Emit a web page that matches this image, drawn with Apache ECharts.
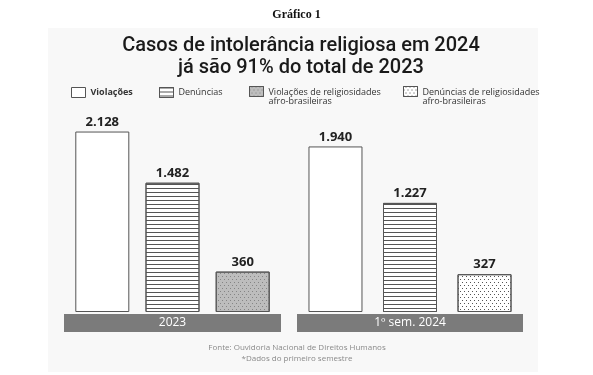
<!DOCTYPE html>
<html>
<head>
<meta charset="utf-8">
<script src="https://cdn.jsdelivr.net/npm/echarts@6/dist/echarts.min.js"></script>
<style>
	html, body { margin: 0; padding: 0; background: #fff; }
	#echarts { width: 593px; height: 375px; }
</style>
</head>
<body>
<div id="echarts"></div>
<script>
// data
const groups = ["2023", "1º sem. 2024"];
const seriesNames = [
	"Violações",
	"Denúncias",
	"Violações de religiosidades afro-brasileiras",
	"Denúncias de religiosidades afro-brasileiras",
];
const violacoes = [2128, 1940];
const denuncias = [1482, 1227];
const violacoesAfro = [360, null];
const denunciasAfro = [null, 327];

const BORDER = "#555";
const FONT = "Open Sans";

// layout of the two groups (band under the bars = x axis label)
const groupGrids = [
	{ left: 64, width: 217, barGap: "30%" },
	{ left: 297, width: 226, barGap: "38%" },
];

const dots = (color) => ({
	symbol: "rect",
	symbolSize: 1,
	color: color,
	dashArrayX: [[1, 3], [0, 2, 1, 1]],
	dashArrayY: [1, 2],
	rotation: 0,
});

const styles = [
	{ color: "#fff" },
	{
		color: "#fff",
		decal: { symbol: "rect", symbolSize: 1, color: "#555", dashArrayX: [1, 0], dashArrayY: [1, 3], rotation: 0 },
	},
	{ color: "#bdbdbd", decal: dots("#858585") },
	{ color: "#fff", decal: dots("#555") },
];

const values = [violacoes, denuncias, violacoesAfro, denunciasAfro];

const fmt = (v) => String(v).replace(/\B(?=(\d{3})+(?!\d))/g, ".");

const dom = document.getElementById("echarts");
const myChart = echarts.init(dom, null, { renderer: "canvas", width: 593, height: 375 });

const series = [];
groups.forEach((g, gi) => {
	values.forEach((arr, si) => {
		if (arr[gi] == null) return;
		series.push({
			type: "bar",
			name: seriesNames[si],
			xAxisIndex: gi,
			yAxisIndex: gi,
			data: [arr[gi]],
			barWidth: 54,
			barGap: groupGrids[gi].barGap,
			itemStyle: Object.assign({ borderColor: BORDER, borderWidth: 1 }, styles[si]),
			label: {
				show: true,
				position: "top",
				distance: 3,
				formatter: (p) => fmt(p.value),
				fontFamily: FONT,
				fontWeight: "bold",
				fontSize: 13,
				color: "#222",
			},
		});
	});
});

const legendAt = (name, left, top, bold) => ({
	data: [name],
	left: left,
	top: top,
	padding: 0,
	icon: "rect",
	itemWidth: 14,
	itemHeight: 10,
	itemGap: 0,
	selectedMode: false,
	itemStyle: { borderColor: BORDER, borderWidth: 1 },
	textStyle: {
		fontFamily: FONT,
		fontSize: 9,
		color: "#333",
		fontWeight: bold ? "bold" : "normal",
		rich: {
			p: { height: 11, fontSize: 9 },
			t: { fontFamily: FONT, fontSize: 9, lineHeight: 9, color: "#333" },
		},
	},
	formatter: (n) => {
		const parts = n.split(" afro-brasileiras");
		if (parts.length === 1) return n;
		return "{p| }\n{t|" + parts[0] + "}\n{t|afro-brasileiras}";
	},
});

const option = {
	animation: false,
	backgroundColor: "#fff",
	graphic: [
		{
			type: "rect",
			left: 48,
			top: 28,
			z: -10,
			silent: true,
			shape: { width: 490, height: 344 },
			style: { fill: "#f8f8f8" },
		},
	],
	title: [
		{
			text: "Gráfico 1",
			left: "center",
			top: 9,
			padding: 0,
			textStyle: { fontFamily: "Liberation Serif", fontWeight: "bold", fontSize: 12, color: "#111" },
		},
		{
			text: "Casos de intolerância religiosa em 2024\njá são 91% do total de 2023",
			left: 301,
			textAlign: "center",
			top: 35,
			padding: 0,
			textStyle: { fontFamily: "Roboto", fontWeight: 500, fontSize: 20, lineHeight: 22, color: "#1a1a1a" },
		},
		{
			text: "Fonte: Ouvidoria Nacional de Direitos Humanos\n*Dados do primeiro semestre",
			left: 297,
			textAlign: "center",
			top: 342,
			padding: 0,
			textStyle: { fontFamily: FONT, fontWeight: "normal", fontSize: 8, lineHeight: 11, color: "#8a8a8a" },
		},
	],
	legend: [
		legendAt(seriesNames[0], 71, 87, true),
		legendAt(seriesNames[1], 159, 87, false),
		legendAt(seriesNames[2], 249, 78, false),
		legendAt(seriesNames[3], 403, 78, false),
	],
	grid: groupGrids.map((g) => ({
		left: g.left,
		width: g.width,
		top: 110,
		bottom: 63,
		containLabel: false,
	})),
	xAxis: groups.map((g, gi) => ({
		type: "category",
		gridIndex: gi,
		data: [g],
		axisLine: { show: false },
		axisTick: { show: false },
		axisLabel: {
			margin: 2,
			color: "#fff",
			fontFamily: FONT,
			fontSize: 12,
			backgroundColor: "#7b7b7b",
			width: groupGrids[gi].width,
			height: 18,
			lineHeight: 18,
			align: "center",
			overflow: "none",
		},
	})),
	yAxis: groups.map((g, gi) => ({
		type: "value",
		gridIndex: gi,
		min: -150,
		max: 2400,
		startValue: -150,
		show: false,
		splitLine: { show: false },
	})),
	series: series,
};

myChart.setOption(option);
</script>
</body>
</html>
